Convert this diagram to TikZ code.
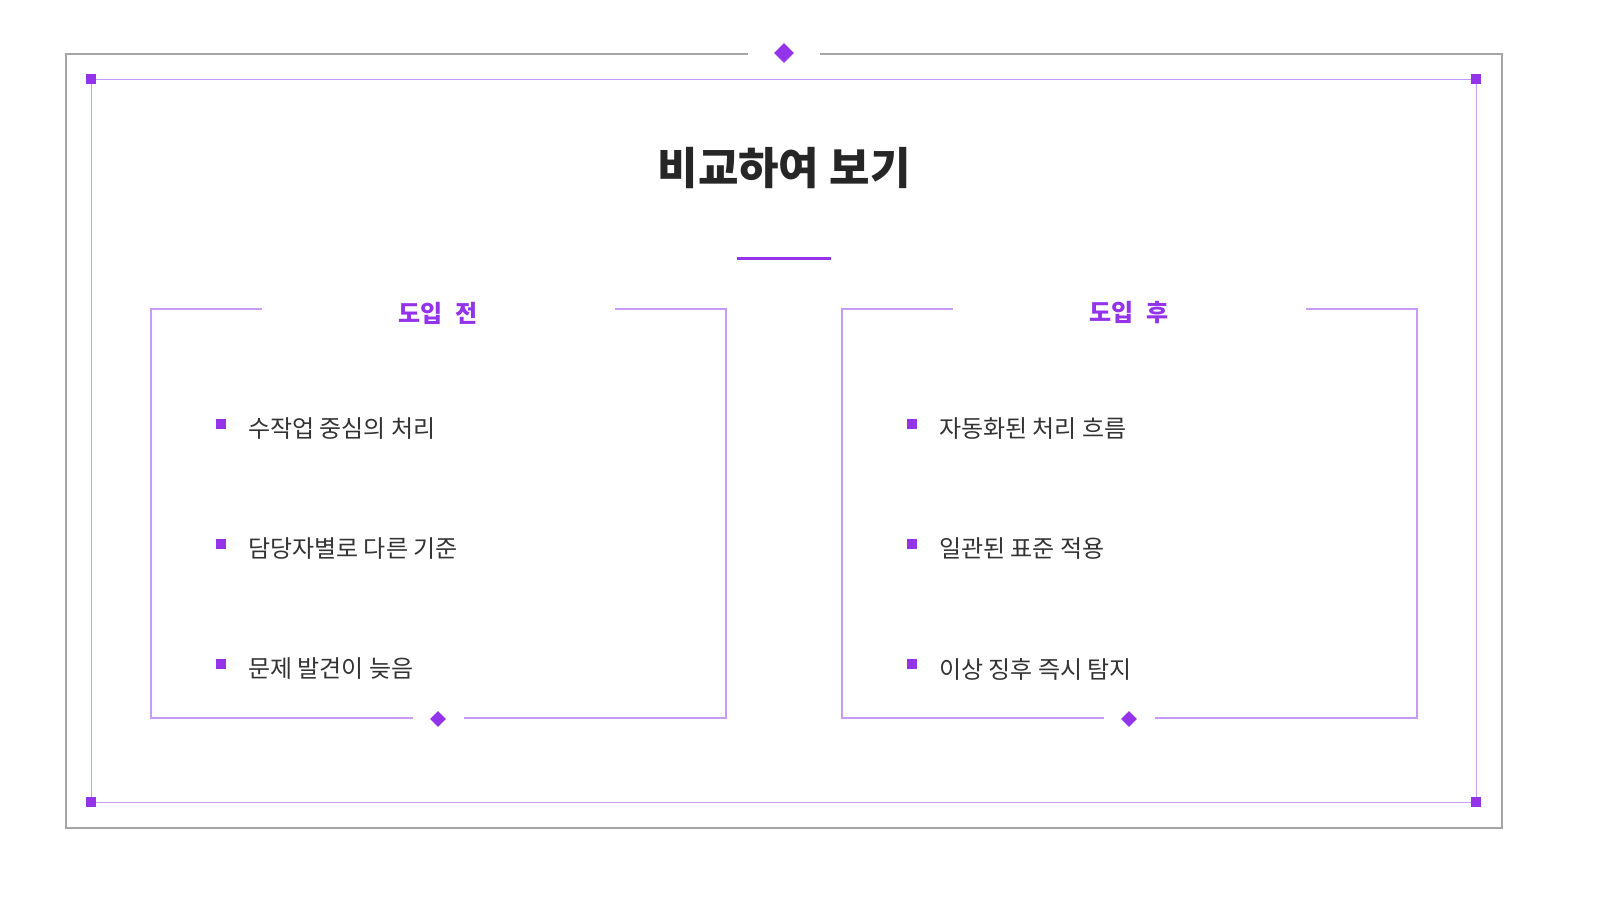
\documentclass[tikz,border=0pt]{standalone}
\usepackage{fontspec}
\setmainfont{Noto Sans CJK KR}
\definecolor{pdark}{HTML}{9333EA}
\definecolor{plight}{HTML}{C79BF5}
\definecolor{gline}{HTML}{A6A6A6}
\definecolor{txt}{HTML}{333333}
\usetikzlibrary{shapes.geometric}
\begin{document}
\begin{tikzpicture}[x=1pt,y=-1pt,
  dia/.style={fill=pdark,draw=none,shape=diamond,inner sep=0pt,minimum size=#1},
  sq/.style={fill=pdark,draw=none,inner sep=0pt,minimum size=#1},
  pl/.style={draw=plight,line width=1.3pt},
  item/.style={anchor=west,font=\fontsize{24}{24}\selectfont,text=txt,inner sep=0pt},
  hdr/.style={font=\fontsize{24}{24}\selectfont\bfseries,text=pdark}]
\useasboundingbox (0,0) rectangle (1598,900);
% outer frame
\coordinate (ol) at (748,54); \coordinate (or) at (820,54);
\draw[gline,line width=1.5pt] (ol) -- (66,54) -- (66,828) -- (1502,828) -- (1502,54) -- (or);
\node[dia=20] (td) at (784,53) {};
% inner frame
\draw[plight,line width=1pt] (91,79) rectangle (1476,802);
\foreach \p/\n in {{(91,79)}/a,{(1476,79)}/b,{(91,802)}/c,{(1476,802)}/d}
  \node[sq=10] (c\n) at \p {};
% title
\node[font=\fontsize{44}{44}\selectfont\bfseries,text=black!85] (title) at (784,168) {비교하여 보기};
\coordinate (ul) at (737,258); \coordinate (ur) at (831,258);
\draw[pdark,line width=3pt] (ul) -- (ur);
% panels
\foreach \dx/\h/\a/\b/\c in {0/{도입\hspace{0.5em}전}/수작업 중심의 처리/담당자별로 다른 기준/문제 발견이 늦음,
                        691/{도입\hspace{0.5em}후}/자동화된 처리 흐름/일관된 표준 적용/이상 징후 즉시 탐지}{
  \begin{scope}[xshift=\dx]
  \draw[pl] (262,309) -- (151,309) -- (151,718) -- (413,718);
  \draw[pl] (615,309) -- (726,309) -- (726,718) -- (464,718);
  \node[hdr] (h) at (438,313) {\h};
  \node[dia=16] (bd) at (438,719) {};
  \node[sq=10] (s1) at (221,424) {}; \node[item] (t1) at (248,429) {\a};
  \node[sq=10] (s2) at (221,544) {}; \node[item] (t2) at (248,549) {\b};
  \node[sq=10] (s3) at (221,664) {}; \node[item] (t3) at (248,669) {\c};
  \end{scope}}
\end{tikzpicture}
\end{document}
